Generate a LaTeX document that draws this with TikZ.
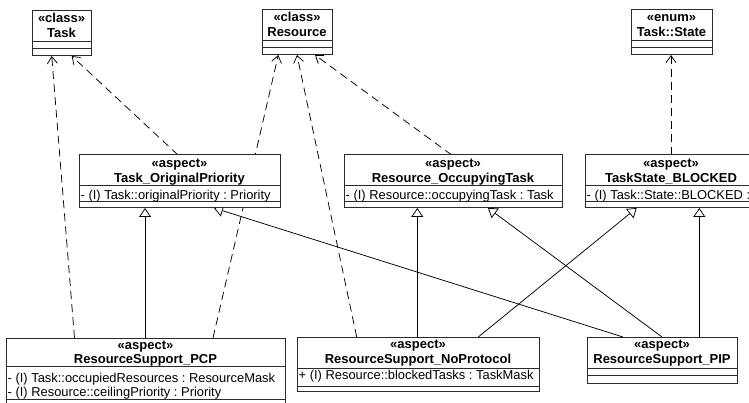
\documentclass[tikz,border=0pt]{standalone}
\usepackage{fontspec}
\setmainfont{Liberation Sans}
\usetikzlibrary{arrows.meta}
\pgfdeclarelayer{paper}
\pgfdeclarelayer{links}
\pgfsetlayers{paper,links,main}
\definecolor{boxline}{HTML}{2B2B2B}
\frenchspacing

\begin{document}
\begin{tikzpicture}[x=1pt,y=-1pt,
  umlbox/.style={draw=boxline, fill=white, line width=1pt, anchor=north west,
                 inner sep=0pt, outer sep=0pt},
  headtxt/.style={font=\fontsize{13}{14}\selectfont\bfseries, inner sep=0pt, anchor=base},
  attrtxt/.style={font=\fontsize{12.9}{14}\selectfont, inner sep=0pt, anchor=base west},
  divider/.style={draw=boxline, line width=1pt},
  dep/.style={line width=0.75pt, dash pattern=on 8pt off 5pt,
              -{Straight Barb[length=7pt,width=10pt,line width=0.75pt]}},
  gen/.style={line width=0.75pt,
              -{Triangle[open,fill=white,length=9pt,width=12pt,line width=0.75pt]}}
]
\clip (0,0) rectangle (749,403);
\begin{pgfonlayer}{paper}
  \fill[white] (0,0) rectangle (749,403);
\end{pgfonlayer}

% ---------- classes ----------
\node[umlbox, minimum width=59pt, minimum height=45pt] (task) at (32,11) {};
\draw[divider] (task.north west) ++(0,31) -- ++(59,0);
\draw[divider] (task.north west) ++(0,37.5) -- ++(59,0);
\node[headtxt] (task-st) at (61.5,23) {«class»};
\node[headtxt] (task-nm) at (61.5,38) {Task};

\node[umlbox, minimum width=70pt, minimum height=45pt] (res) at (262,10) {};
\draw[divider] (res.north west) ++(0,31) -- ++(70,0);
\draw[divider] (res.north west) ++(0,37.7) -- ++(70,0);
\node[headtxt] (res-st) at (297,22) {«class»};
\node[headtxt] (res-nm) at (297,37) {Resource};

\node[umlbox, minimum width=81pt, minimum height=45pt] (state) at (631,10) {};
\draw[divider] (state.north west) ++(0,30.5) -- ++(81,0);
\draw[divider] (state.north west) ++(0,37.7) -- ++(81,0);
\node[headtxt] (state-st) at (671.5,22) {«enum»};
\node[headtxt] (state-nm) at (671.5,37) {Task::State};

% ---------- first-level aspects ----------
\node[umlbox, minimum width=201pt, minimum height=53pt] (top) at (79,155) {};
\draw[divider] (top.north west) ++(0,31) -- ++(201,0);
\draw[divider] (top.north west) ++(0,47) -- ++(201,0);
\node[headtxt] (top-st) at (179.5,168) {«aspect»};
\node[headtxt] (top-nm) at (179.5,182.5) {Task\_OriginalPriority};
\node[attrtxt] (top-a1) at (80.5,199.3) {- (I) Task::originalPriority : Priority};

\node[umlbox, minimum width=218pt, minimum height=53pt] (rot) at (344,155) {};
\draw[divider] (rot.north west) ++(0,31) -- ++(218,0);
\draw[divider] (rot.north west) ++(0,47) -- ++(218,0);
\node[headtxt] (rot-st) at (453,168) {«aspect»};
\node[headtxt] (rot-nm) at (453,182.5) {Resource\_OccupyingTask};
\node[attrtxt] (rot-a1) at (345.5,199.3) {- (I) Resource::occupyingTask : Task};

\node[umlbox, minimum width=172pt, minimum height=53pt] (tsb) at (585,155) {};
\draw[divider] (tsb.north west) ++(0,31) -- ++(172,0);
\draw[divider] (tsb.north west) ++(0,47) -- ++(172,0);
\node[headtxt] (tsb-st) at (671,168) {«aspect»};
\node[headtxt] (tsb-nm) at (671,182.5) {TaskState\_BLOCKED};
\node[attrtxt] (tsb-a1) at (586.5,199.3) {- (I) Task::State::BLOCKED :};

% ---------- resource support aspects ----------
\node[umlbox, minimum width=279pt, minimum height=72pt] (pcp) at (6,338) {};
\draw[divider] (pcp.north west) ++(0,28.7) -- ++(279,0);
\draw[divider] (pcp.north west) ++(0,61) -- ++(279,0);
\node[headtxt] (pcp-st) at (145.5,349.5) {«aspect»};
\node[headtxt] (pcp-nm) at (145.5,363.5) {ResourceSupport\_PCP};
\node[attrtxt] (pcp-a1) at (7.5,382) {- (I) Task::occupiedResources : ResourceMask};
\node[attrtxt] (pcp-a2) at (7.5,396) {- (I) Resource::ceilingPriority : Priority};

\node[umlbox, minimum width=242pt, minimum height=54pt] (np) at (297,337) {};
\draw[divider] (np.north west) ++(0,31) -- ++(242,0);
\draw[divider] (np.north west) ++(0,49) -- ++(242,0);
\node[headtxt] (np-st) at (418,348.5) {«aspect»};
\node[headtxt] (np-nm) at (418,363) {ResourceSupport\_NoProtocol};
\node[attrtxt] (np-a1) at (298.5,379.3) {+ (I) Resource::blockedTasks : TaskMask};

\node[umlbox, minimum width=150pt, minimum height=46pt] (pip) at (587,337) {};
\draw[divider] (pip.north west) ++(0,31) -- ++(150,0);
\draw[divider] (pip.north west) ++(0,38) -- ++(150,0);
\node[headtxt] (pip-st) at (662,348.5) {«aspect»};
\node[headtxt] (pip-nm) at (662,363) {ResourceSupport\_PIP};

% ---------- connectors (behind the boxes) ----------
\begin{pgfonlayer}{links}
  % dependencies
  \draw[dep] ([xshift=-71pt]pcp.north)  -- ([xshift=-9.8pt]task.south);
  \draw[dep] ([xshift=-1.5pt]top.north) -- ([xshift=10.2pt]task.south);
  \draw[dep] ([xshift=67.5pt]pcp.north) -- ([xshift=-18.7pt]res.south);
  \draw[dep] ([xshift=-61.3pt]np.north) -- (res.south);
  \draw[dep] ([xshift=-1.3pt]rot.north) -- ([xshift=18pt]res.south);
  \draw[dep] (tsb.north) -- ([xshift=-0.5pt]state.south);
  % generalizations
  \draw[gen] ([xshift=-0.5pt]pcp.north) -- ([xshift=-34.5pt]top.south);
  \draw[gen] ([xshift=-39pt]pip.north)  -- ([xshift=34.5pt]top.south);
  \draw[gen] ([xshift=-0.7pt]np.north)  -- ([xshift=-35.7pt]rot.south);
  \draw[gen] (pip.north)                -- ([xshift=35pt]rot.south);
  \draw[gen] ([xshift=60.3pt]np.north)  -- ([xshift=-34.3pt]tsb.south);
  \draw[gen] ([xshift=37.3pt]pip.north) -- ([xshift=28.3pt]tsb.south);
\end{pgfonlayer}
\end{tikzpicture}
\end{document}
